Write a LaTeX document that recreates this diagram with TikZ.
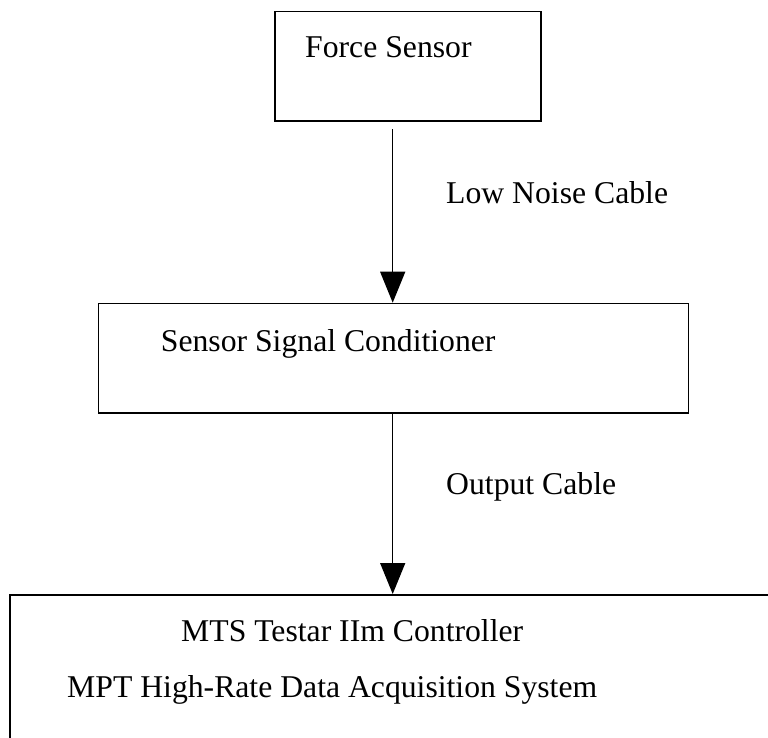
\documentclass[tikz,border=0pt]{standalone}
\usepackage{fontspec}
\setmainfont{Liberation Serif}
\usetikzlibrary{arrows.meta}
\begin{document}
\begin{tikzpicture}[x=1pt,y=-1pt,
  box/.style={draw=black,line width=1.5pt,inner sep=0pt,anchor=north west},
  lbl/.style={inner sep=0pt,anchor=base west,font=\fontsize{31.7}{38}\selectfont},
  conn/.style={line width=1.3pt,-{Triangle[length=31pt,width=25pt]}}]
\useasboundingbox (0,0) rectangle (768,737);
\clip (0,0) rectangle (768,737);
\node[box,minimum width=265.7pt,minimum height=109.3pt] (fs) at (274.3,10.7) {};
\node[box,minimum width=590pt,minimum height=109.3pt] (ssc) at (97.7,302.7) {};
\node[box,minimum width=800pt,minimum height=200pt] (mts) at (9.3,594) {};
\node[lbl] (tfs) at (305,57.3) {Force Sensor};
\node[lbl] (tssc) at (160.7,351) {Sensor Signal Conditioner};
\node[lbl] (tlnc) at (446,203.3) {Low Noise Cable};
\node[lbl] (toc) at (446,494) {Output Cable};
\node[lbl] (tmts) at (181,641) {MTS Testar IIm Controller};
\node[lbl] (tmpt) at (67,697) {MPT High-Rate Data Acquisition System};
\coordinate (a1) at (392.7,129);
\draw[conn] (a1) -- (a1 |- ssc.north);
\coordinate (a2) at (392.7,412);
\draw[conn] (a2) -- (a2 |- mts.north);
\end{tikzpicture}
\end{document}
